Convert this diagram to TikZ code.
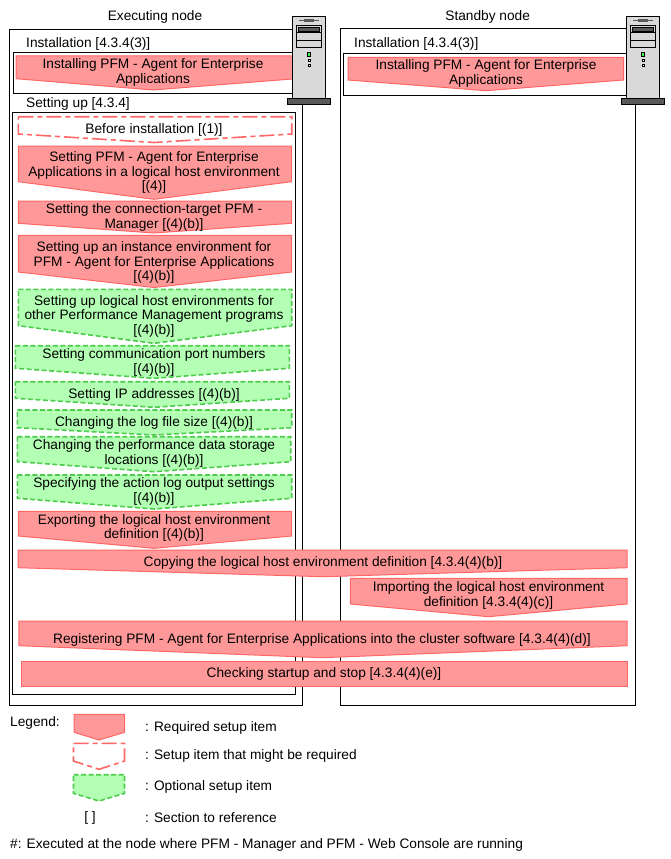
\documentclass[tikz,border=0pt]{standalone}
\usepackage{fontspec}
\setmainfont{Liberation Sans}
\usepackage{xcolor}
\definecolor{reqfill}{HTML}{FF9999}
\definecolor{reqline}{HTML}{FF6666}
\definecolor{optfill}{HTML}{B3FFB3}
\definecolor{optline}{HTML}{4DCC4D}
\definecolor{srvbody}{HTML}{D9D9D9}
\definecolor{srvdark}{HTML}{595959}
\tikzset{
  reqitem/.style={draw=reqline,fill=reqfill,line width=1pt},
  mayitem/.style={draw=reqline,fill=white,line width=1.6pt,dash pattern=on 15pt off 4pt on 5pt off 4pt},
  optitem/.style={draw=optline,fill=optfill,line width=1.6pt,dash pattern=on 5pt off 2.5pt},
  boxline/.style={draw=black,line width=1pt},
  itemtext/.style={align=center,inner sep=0,yshift=-1.5pt,font=\fontsize{13.7}{14.5}\selectfont},
  lefttext/.style={anchor=west,inner sep=0,yshift=-1.5pt,font=\fontsize{13.7}{14.5}\selectfont},
}
\newcommand{\servericon}[1]{%
\begin{scope}[xshift=#1pt]
\draw[boxline,fill=srvbody] (292.5,16.5) rectangle (325.5,98.5);
\fill[srvdark] (287.5,98.5) rectangle (330.5,104.5);
\draw[boxline] (287.5,98.5) rectangle (330.5,104.5);
\draw[srvdark,line width=1.4pt] (299,20.7) -- (319,20.7);
\fill[srvdark] (304,19) rectangle (314,22.4);
\draw[boxline] (296.5,25.5) rectangle (321.5,47.5);
\draw[boxline] (296.5,32.5) -- (321.5,32.5);
\draw[boxline] (296.5,40.5) -- (321.5,40.5);
\draw[black,fill=srvdark,line width=0.9pt] (298.5,27.5) rectangle (319.5,31.5);
\draw[black,fill=green!75,line width=0.9pt] (307.5,52.5) rectangle (310.5,56.5);
\draw[black,fill=white,line width=0.9pt] (308,59.5) rectangle (310.5,61.5);
\draw[black,fill=white,line width=0.9pt] (308,64.5) rectangle (310.5,66.5);
\end{scope}}
\begin{document}
\begin{tikzpicture}[x=1pt,y=-1pt]
\useasboundingbox (0,0) rectangle (670,859);
% node frames
\draw[boxline] (9.5,29.5) rectangle (302.5,705.5);
\draw[boxline] (13.5,52.5) rectangle (296,93.5);
\draw[boxline] (12.5,112.5) rectangle (295.5,694.5);
\draw[boxline] (340.5,28.5) rectangle (635.5,705.5);
\draw[boxline] (343.5,53.5) rectangle (630,95.5);
\node[itemtext] (execnode) at (155,15) {Executing node};
\node[itemtext] (standbynode) at (487.7,15) {Standby node};
\node[lefttext] (execinstall) at (26,42) {Installation [4.3.4(3)]};
\node[lefttext] (standbyinstall) at (354,42) {Installation [4.3.4(3)]};
\node[lefttext] (execsetup) at (26,102) {Setting up [4.3.4]};
% installation
\draw[reqitem] (16,56) -- (296,56) -- (296,78.7) -- (153,90) -- (16,78.7) -- cycle;
\node[itemtext] (installexec) at (153,71) {Installing PFM - Agent for Enterprise\\Applications};
\draw[reqitem] (348,57.3) -- (623.7,57.3) -- (623.7,80) -- (486,90.7) -- (348,80) -- cycle;
\node[itemtext] (installstandby) at (486,72) {Installing PFM - Agent for Enterprise\\Applications};
% setup items
\draw[mayitem] (18.3,116.7) -- (291.7,116.7) -- (291.7,134) -- (154,142.5) -- (18.3,134) -- cycle;
\node[itemtext] (before) at (154,128) {Before installation [(1)]};
\draw[reqitem] (18.3,146) -- (291.7,146) -- (291.7,181.7) -- (154,199.3) -- (18.3,181.7) -- cycle;
\node[itemtext] (setpfm) at (154,171) {Setting PFM - Agent for Enterprise\\Applications in a logical host environment\\{}[(4)]};
\draw[reqitem] (18.3,201) -- (291.7,201) -- (291.7,223.3) -- (154,233) -- (18.3,223.3) -- cycle;
\node[itemtext] (setmanager) at (154,216) {Setting the connection-target PFM -\\Manager [(4)(b)]};
\draw[reqitem] (18.3,235.3) -- (291.7,235.3) -- (291.7,272) -- (154,287.5) -- (18.3,272) -- cycle;
\node[itemtext] (setinstance) at (154,261) {Setting up an instance environment for\\PFM - Agent for Enterprise Applications\\{}[(4)(b)]};
\draw[optitem] (18.3,289.3) -- (291.7,289.3) -- (291.7,325.7) -- (154,343.3) -- (18.3,325.7) -- cycle;
\node[itemtext] (setlogical) at (154,314.5) {Setting up logical host environments for\\other Performance Management programs\\{}[(4)(b)]};
\draw[optitem] (15.3,345.7) -- (289.3,345.7) -- (289.3,368.3) -- (154,378.3) -- (15.3,368.3) -- cycle;
\node[itemtext] (setport) at (154,361) {Setting communication port numbers\\{}[(4)(b)]};
\draw[optitem] (15.3,381.7) -- (289.3,381.7) -- (289.3,398.3) -- (154,407.3) -- (15.3,398.3) -- cycle;
\node[itemtext] (setip) at (154,393) {Setting IP addresses [(4)(b)]};
\draw[optitem] (17.3,410) -- (291.7,410) -- (291.7,427.7) -- (154,435) -- (17.3,427.7) -- cycle;
\node[itemtext] (setlog) at (154,421) {Changing the log file size [(4)(b)]};
\draw[optitem] (17.3,436.7) -- (290.7,436.7) -- (290.7,461.7) -- (154,471.7) -- (17.3,461.7) -- cycle;
\node[itemtext] (setstorage) at (154,452) {Changing the performance data storage\\locations [(4)(b)]};
\draw[optitem] (17.3,475) -- (291.7,475) -- (291.7,498.3) -- (154,509) -- (17.3,498.3) -- cycle;
\node[itemtext] (setaction) at (154,490) {Specifying the action log output settings\\{}[(4)(b)]};
\draw[reqitem] (18.3,511.3) -- (291.7,511.3) -- (291.7,536) -- (154,548.3) -- (18.3,536) -- cycle;
\node[itemtext] (setexport) at (154,526.5) {Exporting the logical host environment\\definition [(4)(b)]};
% items across both nodes
\draw[reqitem] (18,550) -- (627,550) -- (627,567.7) -- (323,576.7) -- (18,567.7) -- cycle;
\node[itemtext] (copydef) at (323,561) {Copying the logical host environment definition [4.3.4(4)(b)]};
\draw[reqitem] (350.4,578.3) -- (627,578.3) -- (627,604) -- (488.5,616.7) -- (350.4,604) -- cycle;
\node[itemtext] (importdef) at (488.5,594) {Importing the logical host environment\\definition [4.3.4(4)(c)]};
\draw[reqitem] (18.8,621) -- (627,621) -- (627,645.7) -- (322.6,657.7) -- (18.8,645.7) -- cycle;
\node[itemtext] (register) at (322,638) {Registering PFM - Agent for Enterprise Applications into the cluster software [4.3.4(4)(d)]};
\draw[reqitem] (21.4,661.3) rectangle (627,686.7);
\node[itemtext] (checkstart) at (324,672) {Checking startup and stop [4.3.4(4)(e)]};
% servers
\servericon{0}
\servericon{334}
% legend
\node[lefttext] (legend) at (10,721) {Legend:};
\draw[reqitem] (74,714.3) -- (124.7,714.3) -- (124.7,732.3) -- (99,740) -- (74,732.3) -- cycle;
\node[lefttext] (legreq) at (145,726) {: Required setup item};
\draw[mayitem] (73.5,743.3) -- (124.5,743.3) -- (124.5,761) -- (99,769.3) -- (73.5,761) -- cycle;
\node[lefttext] (legmay) at (145,754) {: Setup item that might be required};
\draw[optitem] (73.5,774.7) -- (124.5,774.7) -- (124.5,793.3) -- (99,801) -- (73.5,793.3) -- cycle;
\node[lefttext] (legopt) at (145,785) {: Optional setup item};
\node[itemtext] (legbrack) at (90,816) {[ ]};
\node[lefttext] (legsec) at (145,816) {: Section to reference};
\node[lefttext] (footnote) at (10,843) {\#: Executed at the node where PFM - Manager and PFM - Web Console are running};
\end{tikzpicture}
\end{document}
